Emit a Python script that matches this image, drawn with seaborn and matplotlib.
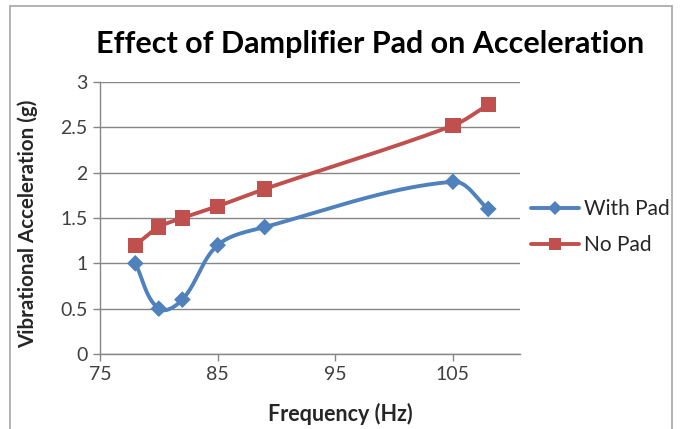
import numpy as np
import pandas as pd
import matplotlib
matplotlib.use("Agg")
import matplotlib.pyplot as plt
import seaborn as sns
from matplotlib.lines import Line2D

freq = [78, 80, 82, 85, 89, 105, 108]
with_pad = [1.0, 0.5, 0.6, 1.2, 1.4, 1.9, 1.6]
no_pad = [1.2, 1.4, 1.5, 1.63, 1.82, 2.52, 2.75]
series_names = ["With Pad", "No Pad"]
x_ticks = [75, 85, 95, 105]
y_ticks = [0, 0.5, 1, 1.5, 2, 2.5, 3]

sns.set_theme(style="white")
plt.rcParams['font.family'] = ['Lato', 'DejaVu Sans']

W, H = 681, 429
fig = plt.figure(figsize=(W / 100, H / 100), dpi=100)
ax = fig.add_axes([100 / W, 1 - 354 / H, 420 / W, 272 / H])

XMIN, XMAX = 75, 110.7
YMIN, YMAX = 0, 3
ax.set_xlim(XMIN, XMAX)
ax.set_ylim(YMIN, YMAX)

df = pd.DataFrame({
    "Frequency": freq * 2,
    "Acc": with_pad + no_pad,
    "Series": [series_names[0]] * len(freq) + [series_names[1]] * len(freq),
})

colors = {"With Pad": "#4F81BD", "No Pad": "#C0504D"}
markers = {"With Pad": "D", "No Pad": "s"}
msize = {"With Pad": 8.5, "No Pad": 11}


def smooth(xs, ys, n=40):
    # Excel-like smoothed line (cardinal spline in screen-proportional space)
    sx = 420 / (XMAX - XMIN)
    sy = 272 / (YMAX - YMIN)
    P = np.column_stack([np.asarray(xs, float) * sx, np.asarray(ys, float) * sy])
    pts = []
    for i in range(len(P) - 1):
        p0 = P[i - 1] if i > 0 else P[i]
        p1, p2 = P[i], P[i + 1]
        p3 = P[i + 2] if i + 2 < len(P) else P[i + 1]
        seg_len = np.linalg.norm(p2 - p1)
        d1 = p2 - p0
        d2 = p3 - p1
        n1 = np.linalg.norm(d1)
        n2 = np.linalg.norm(d2)
        c1 = p1 + (d1 / n1 * seg_len / 3 if n1 > 0 else 0)
        c2 = p2 - (d2 / n2 * seg_len / 3 if n2 > 0 else 0)
        t = np.linspace(0, 1, n)[:, None]
        seg = (1 - t) ** 3 * p1 + 3 * (1 - t) ** 2 * t * c1 + 3 * (1 - t) * t ** 2 * c2 + t ** 3 * p2
        pts.append(seg if i == 0 else seg[1:])
    pts = np.vstack(pts)
    return pts[:, 0] / sx, pts[:, 1] / sy


for name in series_names:
    sub = df[df["Series"] == name]
    sx_, sy_ = smooth(sub["Frequency"].values, sub["Acc"].values)
    ax.plot(sx_, sy_, color=colors[name], lw=2.8, solid_capstyle="round", zorder=3)
    sns.scatterplot(data=sub, x="Frequency", y="Acc", ax=ax, color=colors[name],
                    marker=markers[name], s=msize[name] ** 2, edgecolor="none",
                    linewidth=0, zorder=4, legend=False)

ax.set_xticks(x_ticks)
ax.set_yticks(y_ticks)
ax.set_xticklabels([str(v) for v in x_ticks])
ax.set_yticklabels([f"{v:g}" for v in y_ticks])
ax.grid(axis="y", color="#868686", lw=1)
ax.grid(axis="x", visible=False)
for s in ["top", "right"]:
    ax.spines[s].set_visible(False)
for s in ["left", "bottom"]:
    ax.spines[s].set_color("#868686")
    ax.spines[s].set_linewidth(1)
ax.tick_params(axis="both", which="major", direction="out", length=5, width=1,
               color="#868686", labelsize=14, labelcolor="#404040", pad=4,
               bottom=True, left=True)
ax.set_xlabel("Frequency (Hz)", fontsize=15.5, fontweight="bold", color="#262626")
ax.xaxis.set_label_coords((340 - 100) / 420, (354 - 403) / 272)
ax.set_ylabel("Vibrational Acceleration (g)", fontsize=14.8, fontweight="bold", color="#262626")
ax.yaxis.set_label_coords((38 - 100) / 420, (354 - 224) / 272)

fig.text(370 / W, 1 - 53 / H, "Effect of Damplifier Pad on Acceleration",
         ha="center", va="baseline", fontsize=22, fontweight="bold", color="#000000")

handles = [Line2D([0], [0], color=colors[n], lw=2.8, marker=markers[n],
                  markersize=msize[n] * 0.85, markeredgewidth=0) for n in series_names]
fig.legend(handles, series_names, loc="center left", bbox_to_anchor=(512 / W, 1 - 227 / H),
           frameon=False, fontsize=15, handlelength=2.3, handletextpad=0.25,
           labelspacing=0.75, labelcolor="#262626")

# chart border
bc = "#A6A6A6"
fig.add_artist(Line2D([10 / W, 672 / W], [1 - 6 / H, 1 - 6 / H], color=bc, lw=1.2, transform=fig.transFigure))
fig.add_artist(Line2D([10 / W, 10 / W], [0, 1 - 6 / H], color=bc, lw=1.2, transform=fig.transFigure))
fig.add_artist(Line2D([672 / W, 672 / W], [0, 1 - 6 / H], color=bc, lw=1.2, transform=fig.transFigure))

fig.savefig("out.png", dpi=100)
